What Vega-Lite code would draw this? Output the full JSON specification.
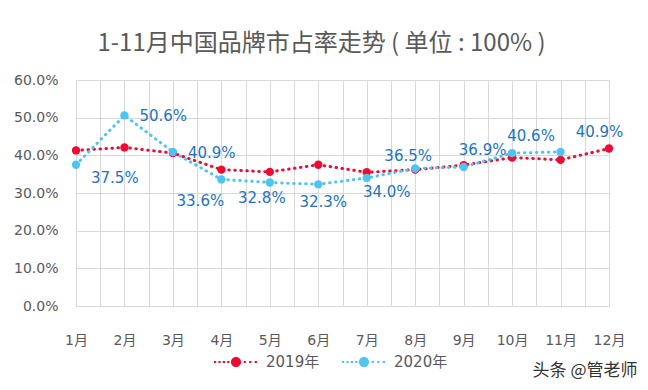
{
  "$schema": "https://vega.github.io/schema/vega-lite/v6.json",
  "autosize": {"type": "none"},
  "width": 533,
  "height": 226,
  "padding": {"left": 76, "top": 80, "right": 39, "bottom": 84},
  "background": "#ffffff",
  "title": {
    "text": "1-11月中国品牌市占率走势 ( 单位 : 100% )",
    "font": "Noto Sans CJK SC",
    "fontSize": 24,
    "fontWeight": "normal",
    "color": "#595959",
    "anchor": "middle",
    "frame": "group",
    "offset": 17,
    "dx": -21
  },
  "config": {
    "view": {"stroke": null},
    "font": "DejaVu Sans"
  },
  "data": {
    "values": [
      {"month": 1, "year": "2019年", "share": 0.413},
      {"month": 2, "year": "2019年", "share": 0.421},
      {"month": 3, "year": "2019年", "share": 0.406},
      {"month": 4, "year": "2019年", "share": 0.362},
      {"month": 5, "year": "2019年", "share": 0.356},
      {"month": 6, "year": "2019年", "share": 0.375},
      {"month": 7, "year": "2019年", "share": 0.355},
      {"month": 8, "year": "2019年", "share": 0.362},
      {"month": 9, "year": "2019年", "share": 0.374},
      {"month": 10, "year": "2019年", "share": 0.394},
      {"month": 11, "year": "2019年", "share": 0.388},
      {"month": 12, "year": "2019年", "share": 0.418},
      {"month": 1, "year": "2020年", "share": 0.375},
      {"month": 2, "year": "2020年", "share": 0.506},
      {"month": 3, "year": "2020年", "share": 0.409},
      {"month": 4, "year": "2020年", "share": 0.336},
      {"month": 5, "year": "2020年", "share": 0.328},
      {"month": 6, "year": "2020年", "share": 0.323},
      {"month": 7, "year": "2020年", "share": 0.340},
      {"month": 8, "year": "2020年", "share": 0.365},
      {"month": 9, "year": "2020年", "share": 0.369},
      {"month": 10, "year": "2020年", "share": 0.406},
      {"month": 11, "year": "2020年", "share": 0.409}
    ]
  },
  "encoding": {
    "x": {
      "field": "month",
      "type": "quantitative",
      "scale": {"domain": [1, 12], "nice": false, "zero": false},
      "axis": {
        "values": [1, 1.5, 2, 2.5, 3, 3.5, 4, 4.5, 5, 5.5, 6, 6.5, 7, 7.5, 8, 8.5, 9, 9.5, 10, 10.5, 11, 11.5, 12],
        "labelExpr": "datum.value % 1 == 0 ? datum.value + '月' : ''",
        "grid": true,
        "gridColor": "#D9D9D9",
        "gridWidth": 1,
        "domain": false,
        "ticks": false,
        "labelFont": "DejaVu Sans, Noto Sans CJK SC",
        "labelFontSize": 14,
        "labelColor": "#595959",
        "labelPadding": 27,
        "labelFlush": false,
        "labelOverlap": false,
        "title": "头条 @管老师",
        "titleFont": "Noto Sans CJK SC",
        "titleFontSize": 17,
        "titleFontWeight": "normal",
        "titleColor": "#333333",
        "titleAlign": "right",
        "titleBaseline": "middle",
        "titleX": 561,
        "titleY": 64
      }
    },
    "y": {
      "field": "share",
      "type": "quantitative",
      "scale": {"domain": [0, 0.6], "nice": false},
      "axis": {
        "values": [0, 0.1, 0.2, 0.3, 0.4, 0.5, 0.6],
        "format": ".1%",
        "grid": true,
        "gridColor": "#D9D9D9",
        "domain": false,
        "ticks": false,
        "labelFont": "DejaVu Sans",
        "labelFontSize": 14,
        "labelColor": "#595959",
        "labelPadding": 18,
        "title": null
      }
    }
  },
  "layer": [
    {
      "mark": {"type": "line", "strokeWidth": 3, "strokeDash": [0.5, 5.5], "strokeCap": "round"},
      "encoding": {
        "color": {
          "field": "year",
          "type": "nominal",
          "scale": {"domain": ["2019年", "2020年"], "range": ["#EE0A30", "#4FC4F0"]},
          "legend": {
            "orient": "none",
            "legendX": 138,
            "legendY": 260,
            "direction": "horizontal",
            "title": null,
            "padding": 0,
            "symbolType": "M-1,-0.05h0.1v0.1h-0.1Z M-0.8,-0.05h0.1v0.1h-0.1Z M-0.6,-0.05h0.1v0.1h-0.1Z M-0.4,-0.05h0.1v0.1h-0.1Z M0.35,-0.05h0.1v0.1h-0.1Z M0.6,-0.05h0.1v0.1h-0.1Z M0.85,-0.05h0.1v0.1h-0.1Z M-0.23,0a0.23,0.23 0 1,0 0.46,0a0.23,0.23 0 1,0 -0.46,0Z",
            "symbolSize": 1936,
            "symbolStrokeWidth": 0,
            "labelFont": "DejaVu Sans, Noto Sans CJK SC",
            "labelFontSize": 15,
            "labelColor": "#595959",
            "labelOffset": 8,
            "columnPadding": 22,
            "encode": {
              "symbols": {
                "update": {
                  "fill": {"scale": "color", "field": "value"},
                  "stroke": {"value": "transparent"},
                  "opacity": {"value": 1}
                }
              }
            }
          }
        }
      }
    },
    {
      "mark": {"type": "point", "filled": true, "size": 70, "opacity": 1},
      "encoding": {
        "color": {"field": "year", "type": "nominal"}
      }
    },
    {
      "transform": [{"filter": "datum.year == '2020年' && datum.month == 1"}],
      "mark": {"type": "text", "align": "left", "baseline": "middle", "dx": 15, "dy": 13, "fontSize": 15, "font": "DejaVu Sans", "color": "#1E73BE"},
      "encoding": {"text": {"field": "share", "type": "quantitative", "format": ".1%"}}
    },
    {
      "transform": [{"filter": "datum.year == '2020年' && (datum.month == 2 || datum.month == 3)"}],
      "mark": {"type": "text", "align": "left", "baseline": "middle", "dx": 15, "dy": 1, "fontSize": 15, "font": "DejaVu Sans", "color": "#1E73BE"},
      "encoding": {"text": {"field": "share", "type": "quantitative", "format": ".1%"}}
    },
    {
      "transform": [{"filter": "datum.year == '2020年' && datum.month == 4"}],
      "mark": {"type": "text", "align": "center", "baseline": "middle", "dx": -21, "dy": 22, "fontSize": 15, "font": "DejaVu Sans", "color": "#1E73BE"},
      "encoding": {"text": {"field": "share", "type": "quantitative", "format": ".1%"}}
    },
    {
      "transform": [{"filter": "datum.year == '2020年' && datum.month == 5"}],
      "mark": {"type": "text", "align": "center", "baseline": "middle", "dx": -8, "dy": 16, "fontSize": 15, "font": "DejaVu Sans", "color": "#1E73BE"},
      "encoding": {"text": {"field": "share", "type": "quantitative", "format": ".1%"}}
    },
    {
      "transform": [{"filter": "datum.year == '2020年' && datum.month == 6"}],
      "mark": {"type": "text", "align": "center", "baseline": "middle", "dx": 5, "dy": 18, "fontSize": 15, "font": "DejaVu Sans", "color": "#1E73BE"},
      "encoding": {"text": {"field": "share", "type": "quantitative", "format": ".1%"}}
    },
    {
      "transform": [{"filter": "datum.year == '2020年' && datum.month == 7"}],
      "mark": {"type": "text", "align": "center", "baseline": "middle", "dx": 20, "dy": 14, "fontSize": 15, "font": "DejaVu Sans", "color": "#1E73BE"},
      "encoding": {"text": {"field": "share", "type": "quantitative", "format": ".1%"}}
    },
    {
      "transform": [{"filter": "datum.year == '2020年' && datum.month == 8"}],
      "mark": {"type": "text", "align": "center", "baseline": "middle", "dx": -7, "dy": -13, "fontSize": 15, "font": "DejaVu Sans", "color": "#1E73BE"},
      "encoding": {"text": {"field": "share", "type": "quantitative", "format": ".1%"}}
    },
    {
      "transform": [{"filter": "datum.year == '2020年' && (datum.month == 9 || datum.month == 10)"}],
      "mark": {"type": "text", "align": "center", "baseline": "middle", "dx": 19, "dy": -17, "fontSize": 15, "font": "DejaVu Sans", "color": "#1E73BE"},
      "encoding": {"text": {"field": "share", "type": "quantitative", "format": ".1%"}}
    },
    {
      "transform": [{"filter": "datum.year == '2020年' && datum.month == 11"}],
      "mark": {"type": "text", "align": "center", "baseline": "middle", "dx": 39, "dy": -20, "fontSize": 15, "font": "DejaVu Sans", "color": "#1E73BE"},
      "encoding": {"text": {"field": "share", "type": "quantitative", "format": ".1%"}}
    }
  ]
}
